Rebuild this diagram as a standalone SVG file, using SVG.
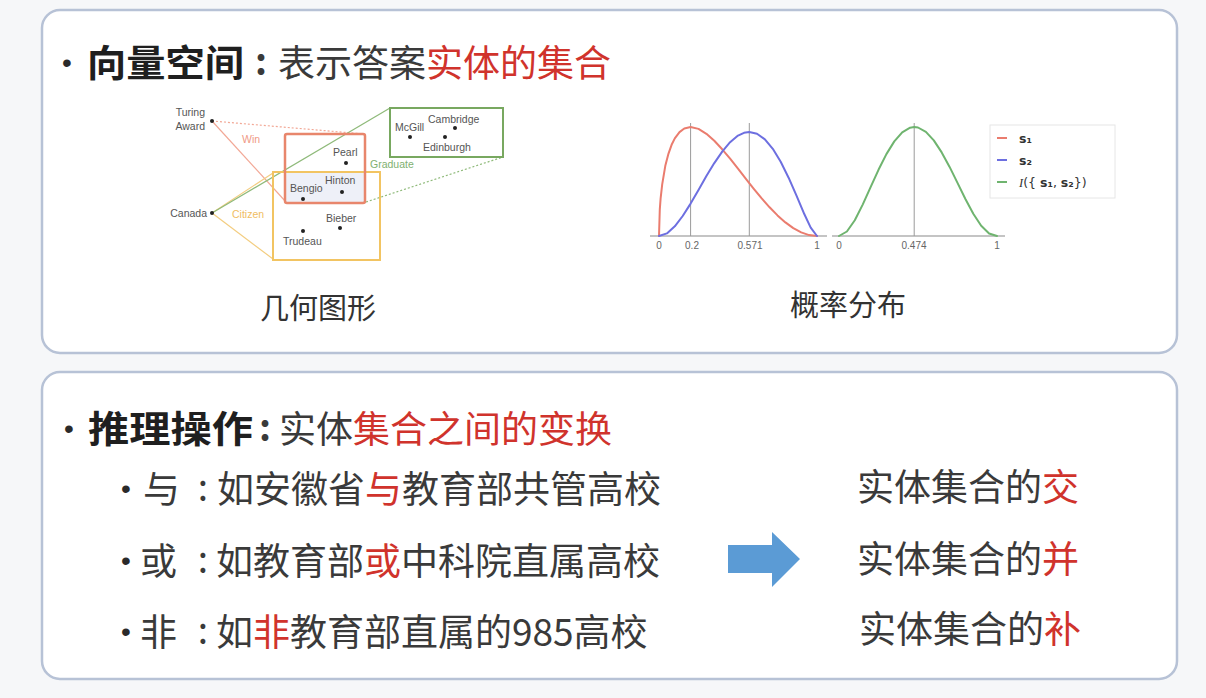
<svg xmlns="http://www.w3.org/2000/svg" width="1206" height="698" viewBox="0 0 1206 698">
  <style>
    .panel { fill: #ffffff; stroke: #b7c2d6; stroke-width: 2.5; }
    .cjk { font-family: "Noto Sans CJK SC", "Noto Sans", sans-serif; font-size: 37px; fill: #3a3a3a; }
    .b { font-weight: 700; fill: #1f1f1f; }
    .red { fill: #d0332c; }
    .colon { font-family: "Noto Sans CJK SC", "Noto Sans", sans-serif; font-size: 37px; fill: #3a3a3a; text-anchor: middle; }
    .bullet { font-family: "Liberation Sans", Arial, sans-serif; font-size: 28px; fill: #2a2a2a; text-anchor: middle; }
    .cap { font-family: "Noto Sans CJK SC", "Noto Sans", sans-serif; font-size: 29px; fill: #333333; }
    .lbl { font-family: "Liberation Sans", Arial, sans-serif; font-size: 10.5px; fill: #555555; }
    .tick { font-family: "Liberation Sans", Arial, sans-serif; font-size: 10px; fill: #666666; text-anchor: middle; }
    .leg { font-family: "DejaVu Sans", sans-serif; font-size: 12.5px; fill: #333333; font-weight: 700; }
    .dot { fill: #222222; }
    .curve { fill: none; stroke-width: 2; stroke-linejoin: round; stroke-linecap: round; }
    .guide { stroke: #9a9a9a; stroke-width: 1; }
    .axis { stroke: #8a8a8a; stroke-width: 1.2; }
  </style>

  <rect x="0" y="0" width="1206" height="698" fill="#f6f7f9"/>

  <!-- upper panel: vector space -->
  <g id="panel-vector-space">
    <rect class="panel" x="42" y="10" width="1135" height="343" rx="18"/>
    <text class="bullet" x="67" y="72">•</text>
    <text class="cjk b" x="87" y="77" textLength="157" lengthAdjust="spacingAndGlyphs">向量空间</text>
    <text class="colon b" x="261" y="75">:</text>
    <text class="cjk" x="278" y="77">表示答案<tspan class="red">实体的集合</tspan></text>
  </g>

  <!-- geometric embedding of entity sets -->
  <g id="geometry">
    <!-- connectors from anchor entities to their boxes -->
    <g id="geometry-connectors" fill="none" stroke-width="1.2">
      <line x1="212" y1="121" x2="286" y2="202" stroke="#f2a896"/>
      <line x1="212" y1="121" x2="364" y2="134" stroke="#f2a896" stroke-dasharray="2 2"/>
      <line x1="212" y1="213" x2="273" y2="173" stroke="#f3cd80"/>
      <line x1="212" y1="213" x2="273" y2="259" stroke="#f3cd80"/>
      <line x1="212" y1="213" x2="390" y2="108" stroke="#8fba7a"/>
      <line x1="366" y1="202" x2="503" y2="157" stroke="#8fba7a" stroke-dasharray="2 2"/>
    </g>
    <rect x="286" y="173" width="79" height="30" fill="#eef0f8"/>
    <rect id="box-citizen" x="273" y="172" width="107" height="88" fill="none" stroke="#f2c462" stroke-width="2"/>
    <rect id="box-win" x="285" y="134" width="80" height="69" fill="none" stroke="#e8866c" stroke-width="2.5" rx="2"/>
    <rect id="box-graduate" x="390" y="108" width="113" height="49" fill="none" stroke="#78a860" stroke-width="2"/>

    <g id="anchor-turing">
      <circle class="dot" cx="212" cy="121" r="2"/>
      <text class="lbl" x="205" y="116" text-anchor="end">Turing</text>
      <text class="lbl" x="205" y="130" text-anchor="end">Award</text>
    </g>
    <g id="anchor-canada">
      <circle class="dot" cx="212" cy="213" r="2"/>
      <text class="lbl" x="207" y="217" text-anchor="end">Canada</text>
    </g>
    <text class="lbl" x="242" y="143" style="fill:#f09a86">Win</text>
    <text class="lbl" x="232" y="218" style="fill:#f0bd62">Citizen</text>
    <text class="lbl" x="370" y="168" style="fill:#80b070">Graduate</text>

    <g id="entities">
      <circle class="dot" cx="346" cy="163" r="2"/>
      <text class="lbl" x="333" y="156">Pearl</text>
      <circle class="dot" cx="342" cy="192" r="2"/>
      <text class="lbl" x="325" y="184">Hinton</text>
      <circle class="dot" cx="303" cy="199" r="2"/>
      <text class="lbl" x="290" y="192">Bengio</text>
      <circle class="dot" cx="340" cy="228" r="2"/>
      <text class="lbl" x="326" y="222">Bieber</text>
      <circle class="dot" cx="303" cy="231" r="2"/>
      <text class="lbl" x="283" y="245">Trudeau</text>
      <circle class="dot" cx="410" cy="137" r="2"/>
      <text class="lbl" x="395" y="131">McGill</text>
      <circle class="dot" cx="455" cy="128" r="2"/>
      <text class="lbl" x="428" y="123">Cambridge</text>
      <circle class="dot" cx="445" cy="137" r="2"/>
      <text class="lbl" x="423" y="151">Edinburgh</text>
    </g>
    <text class="cap" x="260" y="319">几何图形</text>
  </g>

  <!-- probability distributions -->
  <g id="distributions">
    <line class="axis" x1="650" y1="236" x2="827" y2="236"/>
    <line class="axis" x1="832" y1="236" x2="1005" y2="236"/>
    <line class="guide" x1="690.6" y1="123" x2="690.6" y2="236"/>
    <line class="guide" x1="749.3" y1="123" x2="749.3" y2="236"/>
    <line class="guide" x1="914.2" y1="123" x2="914.2" y2="236"/>

    <polyline id="curve-s1" class="curve" stroke="#ea7c6e" points="659,236 659.8,209.3 660.6,198.7 662.2,184.3 665.3,165.8 668.5,153.6 671.6,144.8 674.8,138.4 679.5,132.1 684.3,128.5 690.6,127 698.5,128.9 706.4,133.8 714.3,140.8 722.2,149.3 730.1,158.7 738,168.7 745.9,178.8 753.8,188.8 761.7,198.4 769.6,207.3 777.5,215.4 785.4,222.4 793.3,228.1 801.2,232.4 809.1,235.1 817,236"/>
    <polyline id="curve-s2" class="curve" stroke="#6d6fe0" points="659,236 666.9,233.4 674.8,226.3 682.7,216 690.6,203.6 698.5,189.9 706.4,176.1 714.3,163.1 722.2,151.6 730.1,142.2 738,135.6 744,132.8 749.3,132 757,133.8 764.9,139.4 772.8,148.8 780.7,161.7 788.6,177.7 796.5,195.7 804.4,214.3 810.7,227.6 817,236"/>
    <polyline id="curve-i" class="curve" stroke="#6fb46f" points="839,236 846.9,231.5 854.8,220.2 862.7,204.6 870.6,187.2 878.5,169.8 886.4,154.1 894.3,141.4 902.2,132.3 910.1,127.7 914.2,127 918,127.5 925.9,131.9 933.8,140.4 941.7,152.4 949.6,166.9 957.5,182.9 965.4,199 973.3,213.8 981.2,225.8 989.1,233.5 997,236"/>

    <text class="tick" x="659" y="249">0</text>
    <text class="tick" x="692" y="249">0.2</text>
    <text class="tick" x="750" y="249">0.571</text>
    <text class="tick" x="817" y="249">1</text>
    <text class="tick" x="839" y="249">0</text>
    <text class="tick" x="914" y="249">0.474</text>
    <text class="tick" x="997" y="249">1</text>

    <g id="legend">
      <rect x="990" y="125" width="125" height="73" fill="#ffffff" stroke="#e6e6e6" stroke-width="1"/>
      <line x1="997" y1="138" x2="1007" y2="138" stroke="#ea7c6e" stroke-width="2"/>
      <line x1="997" y1="160" x2="1007" y2="160" stroke="#6d6fe0" stroke-width="2"/>
      <line x1="997" y1="182" x2="1007" y2="182" stroke="#6fb46f" stroke-width="2"/>
      <text class="leg" x="1019" y="143">s₁</text>
      <text class="leg" x="1019" y="165">s₂</text>
      <text class="leg" x="1019" y="187"><tspan font-family="Liberation Serif, serif" font-style="italic" font-weight="400">I</tspan><tspan font-weight="400">({ </tspan>s₁<tspan font-weight="400">, </tspan>s₂<tspan font-weight="400">})</tspan></text>
    </g>
    <text class="cap" x="790" y="316">概率分布</text>
  </g>

  <!-- lower panel: reasoning operations -->
  <g id="panel-reasoning">
    <rect class="panel" x="42" y="372" width="1135" height="307" rx="18"/>
    <text class="bullet" x="69" y="438">•</text>
    <text class="cjk b" x="88" y="443" textLength="165" lengthAdjust="spacingAndGlyphs">推理操作</text>
    <text class="colon b" x="265" y="441">:</text>
    <text class="cjk" x="279" y="443">实体<tspan class="red">集合之间的变换</tspan></text>
  </g>

  <g id="op-and">
    <text class="bullet" x="126" y="498">•</text>
    <text class="cjk" x="143" y="503">与</text>
    <text class="colon" x="203" y="501">:</text>
    <text class="cjk" x="217" y="503">如安徽省<tspan class="red">与</tspan>教育部共管高校</text>
  </g>
  <g id="op-or">
    <text class="bullet" x="126" y="570">•</text>
    <text class="cjk" x="140" y="575">或</text>
    <text class="colon" x="203" y="573">:</text>
    <text class="cjk" x="216" y="575">如教育部<tspan class="red">或</tspan>中科院直属高校</text>
  </g>
  <g id="op-not">
    <text class="bullet" x="126" y="641">•</text>
    <text class="cjk" x="140" y="646">非</text>
    <text class="colon" x="203" y="644">:</text>
    <text class="cjk" x="216" y="646">如<tspan class="red">非</tspan>教育部直属的985高校</text>
  </g>

  <g id="connectors">
    <polygon id="arrow-maps-to" points="728,545 772,545 772,532 800,559 772,587 772,573 728,573" fill="#5b9bd5"/>
  </g>

  <g id="result-intersection">
    <text class="cjk" x="857" y="501">实体集合的<tspan class="red">交</tspan></text>
  </g>
  <g id="result-union">
    <text class="cjk" x="857" y="573">实体集合的<tspan class="red">并</tspan></text>
  </g>
  <g id="result-complement">
    <text class="cjk" x="859" y="643">实体集合的<tspan class="red">补</tspan></text>
  </g>
</svg>
